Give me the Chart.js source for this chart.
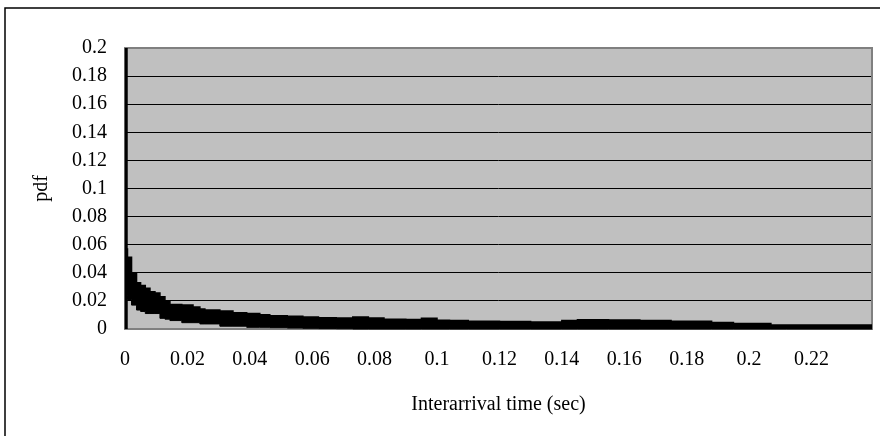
<!DOCTYPE html>
<html>
<head>
<meta charset="utf-8">
<script src="https://cdn.jsdelivr.net/npm/chart.js@4/dist/chart.umd.min.js"></script>
<style>
  html, body { margin: 0; padding: 0; background: #fff; }
  #wrap { position: relative; width: 880px; height: 436px; }
</style>
</head>
<body>
<div id="wrap"><canvas id="c" width="880" height="436"></canvas></div>
<script>
// Interarrival time (sec) sample positions
const times = [0, 0.0008, 0.0021, 0.0037, 0.005, 0.0065, 0.008, 0.0096, 0.0112, 0.0128,
  0.0144, 0.0182, 0.0218, 0.024, 0.0256, 0.0304, 0.0346, 0.039, 0.0432, 0.0464,
  0.052, 0.057, 0.062, 0.0677, 0.073, 0.078, 0.083, 0.09, 0.095, 0.1,
  0.104, 0.11, 0.12, 0.13, 0.14, 0.145, 0.155, 0.165, 0.175, 0.188,
  0.195, 0.207, 0.212, 0.2394];
// upper edge of the noisy pdf band
const pdfHigh = [0.057, 0.057, 0.051, 0.040, 0.033, 0.031, 0.029, 0.0265, 0.0256, 0.023,
  0.0195, 0.0175, 0.017, 0.0156, 0.0142, 0.0135, 0.0128, 0.0116, 0.011, 0.0102,
  0.0095, 0.009, 0.0085, 0.008, 0.0078, 0.0085, 0.0078, 0.007, 0.0068, 0.0076,
  0.0062, 0.006, 0.0055, 0.0053, 0.005, 0.006, 0.0065, 0.0064, 0.006, 0.0055,
  0.0047, 0.004, 0.0028, 0.0028];
// lower edge of the noisy pdf band
const pdfLow = [0.024, 0.024, 0.021, 0.017, 0.0135, 0.0125, 0.011, 0.011, 0.011, 0.0076,
  0.007, 0.006, 0.0045, 0.0045, 0.0036, 0.0036, 0.002, 0.002, 0.0012, 0.0012,
  0.001, 0.0007, 0.0005, 0.0003, 0.0002, 0, 0, 0, 0, 0,
  0, 0, 0, 0, 0, 0, 0, 0, 0, 0,
  0, 0, 0, 0];
// first bin (t ~ 0): pdf spike reaching the top of the axis
const spikeTime = [0.0004, 0.0004];
const spikePdf = [0, 0.2];
const yTicks = [0, 0.02, 0.04, 0.06, 0.08, 0.1, 0.12, 0.14, 0.16, 0.18, 0.2];
const xTicks = [0, 0.02, 0.04, 0.06, 0.08, 0.1, 0.12, 0.14, 0.16, 0.18, 0.2, 0.22];
const xTitle = 'Interarrival time (sec)';
const yTitle = 'pdf';

const FONT = 'Liberation Serif, Times New Roman, serif';

const hi = times.map((t, i) => ({ x: t, y: pdfHigh[i] }));
const lo = times.map((t, i) => ({ x: t, y: pdfLow[i] }));
const spike = spikeTime.map((t, i) => ({ x: t, y: spikePdf[i] }));

const frame = {
  id: 'frame',
  beforeDraw(chart) {
    const { ctx, chartArea: a } = chart;
    ctx.save();
    ctx.fillStyle = '#fff';
    ctx.fillRect(0, 0, chart.width, chart.height);
    ctx.strokeStyle = '#000';
    ctx.lineWidth = 1.5;
    ctx.beginPath();
    ctx.moveTo(5, chart.height);
    ctx.lineTo(5, 8);
    ctx.lineTo(chart.width, 8);
    ctx.stroke();
    ctx.fillStyle = '#C0C0C0';
    ctx.fillRect(a.left, a.top, a.right - a.left, a.bottom - a.top);
    ctx.restore();
  },
  beforeDatasetsDraw(chart) {
    const { ctx, chartArea: a } = chart;
    ctx.save();
    ctx.strokeStyle = '#808080';
    ctx.lineWidth = 2;
    ctx.strokeRect(a.left, a.top, a.right - a.left, a.bottom - a.top);
    ctx.restore();
  }
};

new Chart(document.getElementById('c'), {
  type: 'line',
  data: {
    datasets: [
      { data: hi, borderColor: '#000', borderWidth: 1.5, backgroundColor: '#000',
        fill: '+1', pointRadius: 0, stepped: 'after', tension: 0, clip: 2 },
      { data: lo, borderColor: '#000', borderWidth: 1, backgroundColor: '#000',
        fill: false, pointRadius: 0, stepped: 'after', tension: 0, clip: 2 },
      { data: spike, borderColor: '#000', borderWidth: 3, fill: false,
        pointRadius: 0, tension: 0, clip: 2 }
    ]
  },
  options: {
    responsive: false,
    animation: false,
    devicePixelRatio: 1,
    layout: { padding: { left: 0, top: 48, right: 8, bottom: 0 } },
    plugins: { legend: { display: false }, tooltip: { enabled: false } },
    scales: {
      x: {
        type: 'linear',
        min: 0,
        max: 0.2394,
        afterFit(s) { s.height = 107; },
        afterBuildTicks(s) { s.ticks = xTicks.map(v => ({ value: v })); },
        ticks: {
          color: '#000',
          font: { family: FONT, size: 20 },
          padding: 19,
          maxRotation: 0,
          autoSkip: false,
          callback: v => String(+v.toFixed(2))
        },
        grid: { display: false, drawTicks: false },
        border: { display: false },
        title: { display: true, text: xTitle, color: '#000',
                 font: { family: FONT, size: 20 }, padding: { top: 0, bottom: 19 } }
      },
      y: {
        type: 'linear',
        min: 0,
        max: 0.2,
        afterFit(s) { s.width = 125; },
        afterBuildTicks(s) { s.ticks = yTicks.map(v => ({ value: v })); },
        ticks: {
          color: '#000',
          font: { family: FONT, size: 20 },
          padding: 18,
          autoSkip: false,
          callback: v => String(+v.toFixed(2))
        },
        grid: { color: '#000', lineWidth: 1, drawTicks: false },
        border: { display: false },
        title: { display: true, text: yTitle, color: '#000',
                 font: { family: FONT, size: 20 }, padding: { top: 30, bottom: 0 } }
      }
    }
  },
  plugins: [frame]
});
</script>
</body>
</html>
